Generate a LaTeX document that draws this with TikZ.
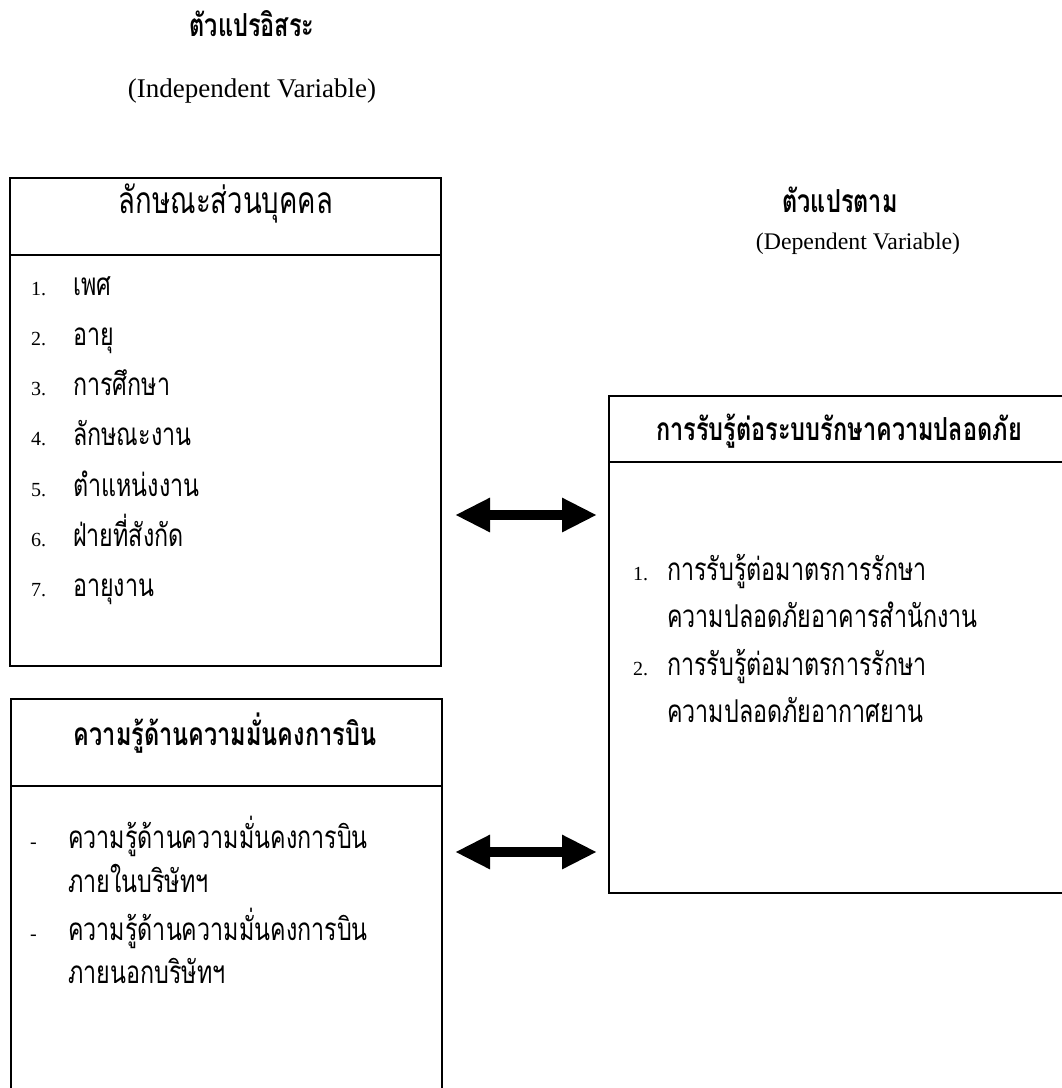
\documentclass[tikz,border=0pt]{standalone}
\usepackage{graphicx}
\usepackage{fontspec}
\setmainfont{Liberation Serif}
\newfontfamily\thai[Script=Thai]{Loma}
\usetikzlibrary{arrows.meta}
% Thai printed in a tall, narrow face: stretch Loma upwards
\newcommand{\thtall}[1]{\raisebox{0pt}[\height][0pt]{\scalebox{1}[1.35]{#1}}}

\begin{document}
\begin{tikzpicture}[x=1pt,y=-1pt,
  box/.style={draw,line width=1.6pt,rectangle,anchor=north west,inner sep=0pt},
  thhead/.style={font=\thai\fontsize{27.5}{32}\selectfont,anchor=base,inner sep=0pt},
  thbold/.style={font=\thai\bfseries\fontsize{23.5}{28}\selectfont,anchor=base,inner sep=0pt},
  item/.style={font=\thai\fontsize{23.3}{28}\selectfont,anchor=base west,inner sep=0pt},
  num/.style={font=\fontsize{20}{24}\selectfont,anchor=base west,inner sep=0pt},
  dblarrow/.style={line width=10pt,{Triangle[length=35pt,width=32pt]}-{Triangle[length=35pt,width=32pt]}}]
  % Fix the page to the picture size
  \useasboundingbox (0,0) rectangle (1062,1088);
  \clip (0,0) rectangle (1062,1088);
  % Titles of the two sides
  \node[thbold] (indep) at (252,36) {\thtall{ตัวแปรอิสระ}};
  \node[font=\fontsize{27}{31}\selectfont,anchor=base,inner sep=0pt] (indepen) at (252,97) {(Independent Variable)};
  \node[thbold] (dep) at (840,212) {\thtall{ตัวแปรตาม}};
  \node[font=\fontsize{23.8}{28}\selectfont,anchor=base,inner sep=0pt] (depen) at (858,249) {(Dependent Variable)};
  % Boxes (the lower one and the right one run off the page)
  \node[box,minimum width=431pt,minimum height=488pt] (pers) at (9,177) {};
  \node[box,minimum width=431pt,minimum height=410pt] (know) at (10,698) {};
  \node[box,minimum width=480pt,minimum height=497pt] (perc) at (608,395) {};
  % Header lines
  \draw[line width=1.6pt] ([yshift=-78pt]pers.north west) -- ([yshift=-78pt]pers.north east);
  \draw[line width=1.6pt] ([yshift=-88pt]know.north west) -- ([yshift=-88pt]know.north east);
  \draw[line width=1.6pt] ([yshift=-67pt]perc.north west) -- ([yshift=-67pt]perc.north east);
  % Headers
  \node[thhead] (hpers) at (226,213) {\thtall{ลักษณะส่วนบุคคล}};
  \node[thbold] (hknow) at (225,745) {\thtall{ความรู้ด้านความมั่นคงการบิน}};
  \node[thbold] (hperc) at (839,440) {\thtall{การรับรู้ต่อระบบรักษาความปลอดภัย}};
  % Personal items
  \foreach \txt [count=\i] in {เพศ,อายุ,การศึกษา,ลักษณะงาน,ตำแหน่งงาน,ฝ่ายที่สังกัด,อายุงาน} {
    \node[num] (n\i) at (31,{295+50.3*(\i-1)}) {\i.};
    \node[item] (i\i) at (73,{295+50.3*(\i-1)}) {\thtall{\txt}};
  }
  % Knowledge items
  \node[num] (d1) at (30,848) {-};
  \node[item] (k1) at (68,848) {\thtall{ความรู้ด้านความมั่นคงการบิน}};
  \node[item] (k2) at (68,892) {\thtall{ภายในบริษัทฯ}};
  \node[num] (d2) at (30,940) {-};
  \node[item] (k3) at (68,940) {\thtall{ความรู้ด้านความมั่นคงการบิน}};
  \node[item] (k4) at (68,983) {\thtall{ภายนอกบริษัทฯ}};
  % Perception items
  \node[num] (m1) at (633,580) {1.};
  \node[item] (p1) at (667,580) {\thtall{การรับรู้ต่อมาตรการรักษา}};
  \node[item] (p2) at (667,627) {\thtall{ความปลอดภัยอาคารสำนักงาน}};
  \node[num] (m2) at (633,675) {2.};
  \node[item] (p3) at (667,675) {\thtall{การรับรู้ต่อมาตรการรักษา}};
  \node[item] (p4) at (667,722) {\thtall{ความปลอดภัยอากาศยาน}};
  % Double arrows
  \coordinate (a1) at (455,515);
  \coordinate (b1) at (597,515);
  \coordinate (a2) at (455,852);
  \coordinate (b2) at (597,852);
  \draw[dblarrow] (a1) -- (b1);
  \draw[dblarrow] (a2) -- (b2);
\end{tikzpicture}
\end{document}
